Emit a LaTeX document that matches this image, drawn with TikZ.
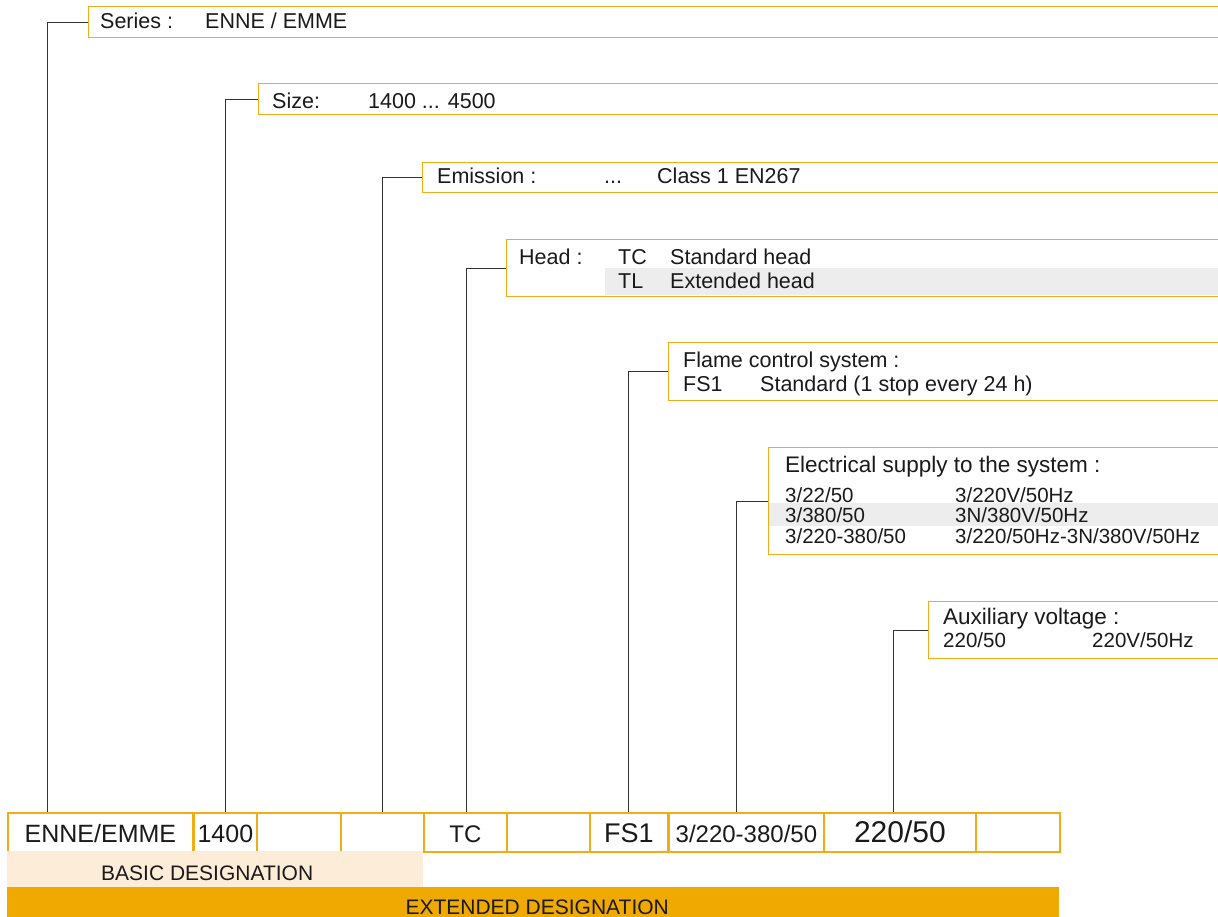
\documentclass[tikz,border=0pt]{standalone}
\usepackage{fontspec}
\setmainfont{Liberation Sans}
\usetikzlibrary{calc}
\definecolor{obord}{RGB}{242,172,22}
\definecolor{extfill}{RGB}{240,169,0}
\definecolor{basfill}{RGB}{253,236,216}
\definecolor{greyrow}{RGB}{237,237,237}
\definecolor{ink}{RGB}{26,26,26}
\begin{document}
\begin{tikzpicture}[x=1pt,y=-1pt,
  topbox/.style={draw=obord,line width=1.4pt,anchor=north west,inner sep=0pt,minimum width=1250-#1},
  botbox/.style={draw=obord,line width=1.8pt,anchor=north west,inner sep=0pt,minimum height=39pt,text height=21pt,text depth=0pt,text=ink},
  lead/.style={draw=black!80,line width=1pt},
  tx/.style={anchor=base west,inner sep=0pt,text=ink,font=\fontsize{21.5}{25}\selectfont},
  tr/.style={anchor=base west,inner sep=0pt,text=ink,font=\fontsize{20.5}{24}\selectfont},
]
\clip (0,0) rectangle (1218,917);
\fill[white] (0,0) rectangle (1218,917);

% grey highlight rows
\fill[greyrow] (605,268) rectangle (1230,295.3);
\fill[greyrow] (768,502.7) rectangle (1230,525.7);

% top boxes
\node[topbox=88,minimum height=31pt] (series) at (88,6) {};
\node[topbox=258,minimum height=31pt] (size) at (258,83) {};
\node[topbox=422,minimum height=30pt] (emis) at (422,162) {};
\node[topbox=506,minimum height=57pt] (head) at (506,239) {};
\node[topbox=668,minimum height=58pt] (flame) at (668,342) {};
\node[topbox=768,minimum height=107pt] (elec) at (768,447) {};
\node[topbox=928,minimum height=57pt] (aux) at (928,601) {};

% texts in top boxes
\node[tx] (sera) at (100,29) {Series :};
\node[tx] (serb) at (205,29) {ENNE / EMME};
\node[tx] (siza) at (272,108.5) {Size:};
\node[tx] (sizb) at (368,108.5) {1400 ... 4500};
\node[tx] (emia) at (437,184) {Emission :};
\node[tx] (emib) at (604,184) {...};
\node[tx] (emic) at (657,184) {Class 1 EN267};
\node[tx] (heaa) at (519,265) {Head :};
\node[tx] (heab) at (618,265) {TC};
\node[tx] (heac) at (670,265) {Standard head};
\node[tx] (head2) at (618,288.5) {TL};
\node[tx] (heae) at (670,288.5) {Extended head};
\node[tx] (flaa) at (683,367.5) {Flame control system :};
\node[tx] (flab) at (683,391.5) {FS1};
\node[tx] (flac) at (760,391.5) {Standard (1 stop every 24 h)};
\node[tx,font=\fontsize{22.5}{26}\selectfont] (elea) at (785,472.5) {Electrical supply to the system :};
\node[tr] (eleb) at (785,502) {3/22/50};
\node[tr] (elec1) at (955,502) {3/220V/50Hz};
\node[tr] (eled) at (785,522) {3/380/50};
\node[tr] (elee) at (955,522) {3N/380V/50Hz};
\node[tr] (elef) at (785,543) {3/220-380/50};
\node[tr] (eleg) at (955,543) {3/220/50Hz-3N/380V/50Hz};
\node[tx,font=\fontsize{22.5}{26}\selectfont] (auxa) at (943,624) {Auxiliary voltage :};
\node[tr] (auxb) at (943,647) {220/50};
\node[tr] (auxc) at (1092,647) {220V/50Hz};

% bottom designation boxes
\node[botbox,minimum width=185pt,font=\fontsize{25}{29}\selectfont] (b1) at (7,812) {ENNE/EMME};
\node[botbox,minimum width=63pt,font=\fontsize{25}{29}\selectfont] (b2) at (193,812) {1400};
\node[botbox,minimum width=84pt] (b3) at (256,812) {};
\node[botbox,minimum width=83pt] (b4) at (340,812) {};
\node[botbox,minimum width=83pt,font=\fontsize{24}{28}\selectfont] (b5) at (423,812) {TC};
\node[botbox,minimum width=83pt] (b6) at (506,812) {};
\node[botbox,minimum width=78pt,font=\fontsize{27}{31}\selectfont] (b7) at (589,812) {FS1};
\node[botbox,minimum width=155pt,font=\fontsize{24}{28}\selectfont] (b8) at (668,812) {3/220-380/50};
\node[botbox,minimum width=152pt,font=\fontsize{30}{34}\selectfont] (b9) at (823,812) {220/50};
\node[botbox,minimum width=84pt] (b10) at (975,812) {};

% bands
\node[anchor=north west,fill=basfill,inner sep=0pt,minimum width=416pt,minimum height=36pt,text height=23.4pt,text depth=0pt,text=ink,font=\fontsize{21}{25}\selectfont] (basic) at (7,851) {\hspace*{-16pt}BASIC DESIGNATION};
\node[anchor=north west,fill=extfill,inner sep=0pt,minimum width=1052pt,minimum height=30pt,text height=24pt,text depth=0pt,text=ink,font=\fontsize{21}{25}\selectfont] (ext) at (7,887) {\hspace*{8pt}EXTENDED DESIGNATION};

% leaders
\draw[lead] (series.west) -| ($(b1.north west)+(40,0)$);
\draw[lead] (size.west) -| (b2.north);
\draw[lead] (emis.west) -| ($(b4.north west)+(42,0)$);
\draw[lead] (head.west) -| ($(b5.north west)+(43,0)$);
\draw[lead] (flame.west) -| ($(b7.north west)+(39,0)$);
\draw[lead] (elec.west) -| ($(b8.north west)+(68,0)$);
\draw[lead] (aux.west) -| ($(b9.north west)+(70,0)$);
\end{tikzpicture}
\end{document}
